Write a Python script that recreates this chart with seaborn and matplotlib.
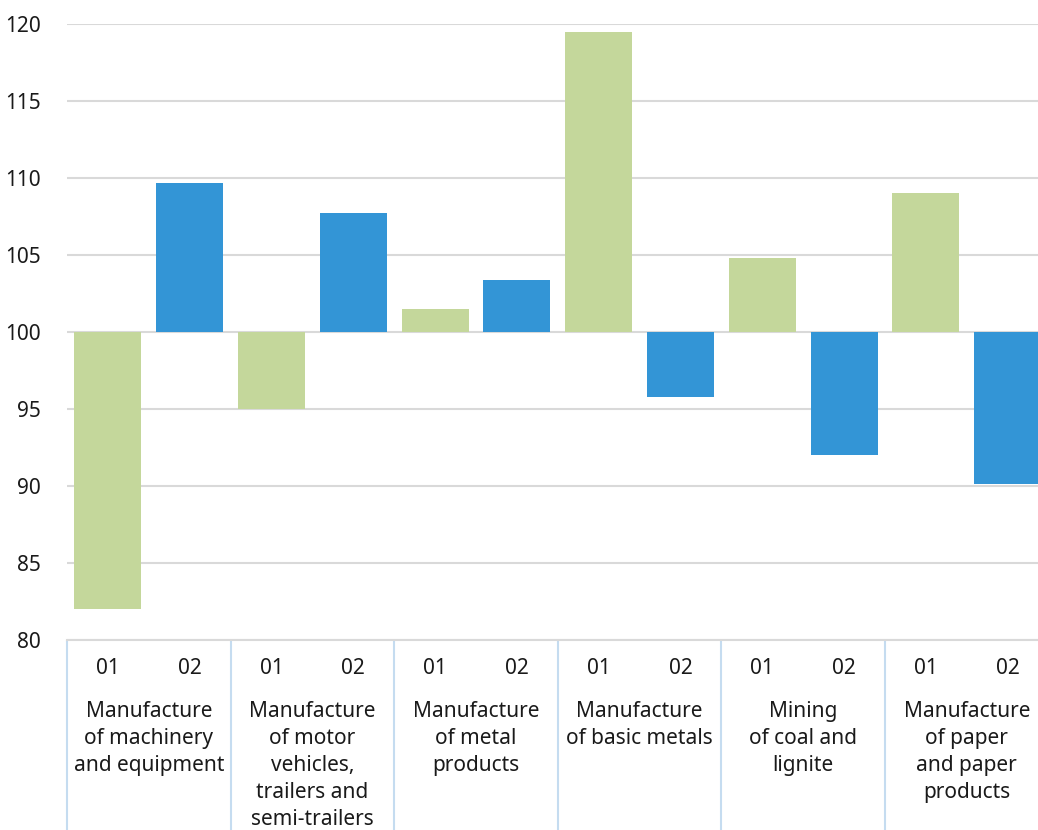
import matplotlib
matplotlib.use("Agg")
import matplotlib.pyplot as plt
import matplotlib.transforms as mtransforms
import pandas as pd
import seaborn as sns

# values (index, base = 100)
groups = [
    "Manufacture\nof machinery\nand equipment",
    "Manufacture\nof motor\nvehicles,\ntrailers and\nsemi-trailers",
    "Manufacture\nof metal\nproducts",
    "Manufacture\nof basic metals",
    "Mining\nof coal and\nlignite",
    "Manufacture\nof paper\nand paper\nproducts",
]
series = ["01", "02"]
values_01 = [82.0, 95.0, 101.5, 119.5, 104.8, 109.0]
values_02 = [109.7, 107.7, 103.4, 95.8, 92.0, 90.1]
base = 100
y_ticks = [80, 85, 90, 95, 100, 105, 110, 115, 120]

green = "#c4d79b"
blue = "#3395d6"

df = pd.DataFrame({
    "group": groups * 2,
    "series": ["01"] * len(groups) + ["02"] * len(groups),
    "value": values_01 + values_02,
})
df["height"] = df["value"] - base

sns.set_style("white")
plt.rcParams["font.family"] = ["Noto Sans", "DejaVu Sans"]

W, H = 1038, 830
fig = plt.figure(figsize=(W / 100, H / 100), dpi=100)
left, top, bottom = 67, 24, 640
axw = 981.6
ax = fig.add_axes([left / W, 1 - bottom / H, axw / W, (bottom - top) / H])

sns.barplot(data=df, x="group", y="height", hue="series", order=groups,
            hue_order=series, palette=[green, blue], width=1.0, gap=0.18,
            bottom=base, saturation=1, linewidth=0, legend=False, ax=ax,
            zorder=3)

ax.set_xlim(-0.5, len(groups) - 0.5)
ax.set_ylim(80, 120)
ax.set_yticks(y_ticks)
ax.yaxis.grid(True, color="#d9d9d9", linewidth=1.5, zorder=0)
ax.set_axisbelow(True)
for s in ["top", "right", "left"]:
    ax.spines[s].set_visible(False)
ax.spines["bottom"].set_color("#d9d9d9")
ax.spines["bottom"].set_linewidth(1.5)

# series ticks 01 / 02 and group names underneath
pos = []
labs = []
for i in range(len(groups)):
    pos += [i - 0.25, i + 0.25]
    labs += series
ax.set_xticks(pos, labels=labs)
ax.set_xticks(range(len(groups)), labels=groups, minor=True)
ax.tick_params(axis="x", which="major", length=0, pad=13, labelsize=15,
               colors="#1a1a1a")
ax.tick_params(axis="x", which="minor", length=0, pad=44, labelsize=15,
               colors="#1a1a1a")
for t in ax.get_xticklabels(minor=True):
    t.set_linespacing(1.38)
ax.tick_params(axis="y", length=0, pad=19, labelsize=15, colors="#1a1a1a")
ax.set_xlabel("")
ax.set_ylabel("")

# group separators below the axis
trans = mtransforms.blended_transform_factory(ax.transData, ax.transAxes)
seps = [i - 0.5 for i in range(len(groups) + 1)]
ax.vlines(seps, -(H - bottom) / (bottom - top), 0, transform=trans,
          colors="#c5dcf0", linewidth=1.5, clip_on=False)

fig.savefig("out.png", dpi=100)
